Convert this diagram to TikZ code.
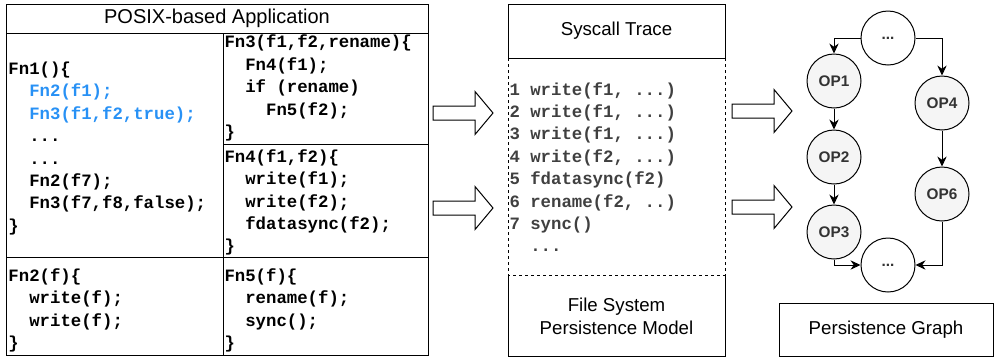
\documentclass[tikz,border=0pt]{standalone}
\usepackage{fontspec}
\setmainfont{Liberation Sans}
\setmonofont{Liberation Mono}
\usetikzlibrary{arrows.meta}

\definecolor{callblue}{RGB}{40,145,245}
\definecolor{tracegray}{RGB}{64,64,64}
\definecolor{opfill}{RGB}{245,245,245}
\definecolor{optext}{RGB}{51,51,51}

\newcommand{\ind}{\hphantom{xx}}
% hollow block arrow: tail x, centre y
\newcommand{\bigarrow}[2]{%
  \draw (#1,#2-7) -- ++(42,0) -- ++(0,-14.5) -- ++(18,21.5) -- ++(-18,21.5)
        -- ++(0,-14.5) -- ++(-42,0) -- cycle;}

\tikzset{every picture/.style={line width=0.75pt}}
\tikzset{
  code/.style={anchor=west, inner sep=0pt, align=left,
               font=\fontsize{13}{16.8}\selectfont\ttfamily\bfseries},
  boxlabel/.style={align=center, inner sep=0pt, font=\fontsize{14}{17}\selectfont},
  op/.style={circle, draw, fill=opfill, text=optext, minimum size=40.5pt,
             inner sep=0pt, font=\fontsize{11.5}{13}\selectfont\bfseries},
  dotsnode/.style={op, fill=white},
  flow/.style={-{Stealth[length=7.5pt,width=7pt]}},
}

\begin{document}
\begin{tikzpicture}[x=0.75pt,y=0.75pt,yscale=-1]
\useasboundingbox (0,0) rectangle (996,358);

%Application panel
\draw (6,4) rectangle (428,355);
\draw (6,33) -- (428,33);
\draw (223,33) -- (223,355);
\draw (6,257) -- (428,257);
\draw (223,144) -- (428,144);

% Text Node
\node[boxlabel, font=\fontsize{15}{18}\selectfont] (app) at (217,18.5) {POSIX-based Application};
% Text Node
\node[code] (fnA) at (8,148.5) {Fn1()\{\\
  \ind\textcolor{callblue}{Fn2(f1);}\\
  \ind\textcolor{callblue}{Fn3(f1,f2,true);}\\
  \ind...\\
  \ind...\\
  \ind Fn2(f7);\\
  \ind Fn3(f7,f8,false);\\
  \}};
% Text Node
\node[code] (fnC) at (224,88) {Fn3(f1,f2,rename)\{\\
  \ind Fn4(f1);\\
  \ind if (rename)\\
  \ind\ind Fn5(f2);\\
  \}};
% Text Node
\node[code] (fnD) at (224,202.5) {Fn4(f1,f2)\{\\
  \ind write(f1);\\
  \ind write(f2);\\
  \ind fdatasync(f2);\\
  \}};
% Text Node
\node[code] (fnB) at (8,310.5) {Fn2(f)\{\\
  \ind write(f);\\
  \ind write(f);\\
  \}};
% Text Node
\node[code] (fnE) at (224,310.5) {Fn5(f)\{\\
  \ind rename(f);\\
  \ind sync();\\
  \}};

%Block arrows
\bigarrow{433}{113}
\bigarrow{433}{208}
\bigarrow{732}{111}
\bigarrow{732}{207}

%Trace panel
\draw (508,4) rectangle (725,58);
\draw[dash pattern=on 2.25pt off 2.25pt] (508,58) rectangle (725,275);
\draw (508,275) -- (508,356) -- (725,356) -- (725,275);

% Text Node
\node[boxlabel] (sys) at (616.5,31) {Syscall Trace};
% Text Node
\node[code, text=tracegray] (trace) at (509,167) {1 write(f1, ...)\\
  2 write(f1, ...)\\
  3 write(f1, ...)\\
  4 write(f2, ...)\\
  5 fdatasync(f2)\\
  6 rename(f2, ..)\\
  7 sync()\\
  \ind...};
% Text Node
\node[boxlabel] (fsm) at (616.5,316.5) {File System\\Persistence Model};

%Persistence graph
\node[dotsnode] (topDots) at (888,38) {...};
\node[op] (op1) at (834,81) {OP1};
\node[op] (op2) at (834,157) {OP2};
\node[op] (op3) at (834,232) {OP3};
\node[op] (op4) at (942,103) {OP4};
\node[op] (op6) at (942,194) {OP6};
\node[dotsnode] (botDots) at (888,265) {...};

\draw[flow] (topDots) -| (op1);
\draw[flow] (topDots) -| (op4);
\draw[flow] (op1) -- (op2);
\draw[flow] (op2) -- (op3);
\draw[flow] (op4) -- (op6);
\draw[flow] (op3) |- (botDots);
\draw[flow] (op6) |- (botDots);

\draw (779,303) rectangle (993,356);
% Text Node
\node[boxlabel] (pgraph) at (886,330) {Persistence Graph};

\end{tikzpicture}
\end{document}
